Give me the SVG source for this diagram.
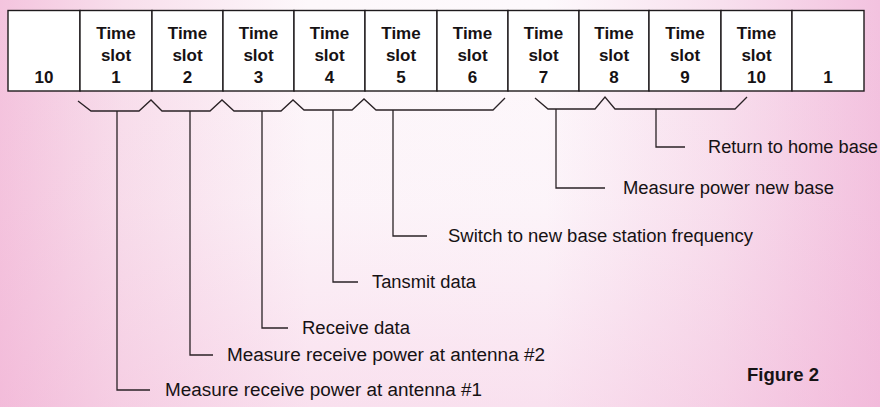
<svg xmlns="http://www.w3.org/2000/svg" width="880" height="407" viewBox="0 0 880 407">
  <defs>
    <linearGradient id="bgH" x1="0" y1="0" x2="1" y2="0">
      <stop offset="0" stop-color="#f4c4de"/>
      <stop offset="0.14" stop-color="#f8dfec"/>
      <stop offset="0.35" stop-color="#fdf8fb"/>
      <stop offset="0.62" stop-color="#fdf9fc"/>
      <stop offset="0.82" stop-color="#f8e0ee"/>
      <stop offset="1" stop-color="#f3c2df"/>
    </linearGradient>
    <linearGradient id="bgV" x1="0" y1="0" x2="0" y2="1">
      <stop offset="0" stop-color="#f0a8d0" stop-opacity="0"/>
      <stop offset="0.5" stop-color="#f0a8d0" stop-opacity="0.06"/>
      <stop offset="1" stop-color="#f0a8d0" stop-opacity="0.3"/>
    </linearGradient>
    <style>
      .box { fill: #ffffff; stroke: #1e1a1c; stroke-width: 1.4; }
      .bt { font-family: "Liberation Sans", Arial, sans-serif; font-weight: bold; font-size: 17px; fill: #161214; text-anchor: middle; }
      .lbl { font-family: "Liberation Sans", Arial, sans-serif; font-size: 18px; fill: #161214; }
      .fig { font-family: "Liberation Sans", Arial, sans-serif; font-weight: bold; font-size: 18px; fill: #161214; }
      .ln { fill: none; stroke: #2a2226; stroke-width: 1.3; stroke-linejoin: miter; }
    </style>
  </defs>
  <rect x="0" y="0" width="880" height="407" fill="url(#bgH)"/>
  <rect x="0" y="0" width="880" height="407" fill="url(#bgV)"/>

  <g id="slot-prev-10">
    <rect class="box" x="8" y="10.5" width="72" height="80.5"/>
    <text class="bt" x="44" y="83">10</text>
  </g>
  <g id="slot-1">
    <rect class="box" x="80" y="10.5" width="72" height="80.5"/>
    <text class="bt" x="116" y="39">Time</text><text class="bt" x="116" y="61">slot</text><text class="bt" x="116" y="83">1</text>
  </g>
  <g id="slot-2">
    <rect class="box" x="152" y="10.5" width="71" height="80.5"/>
    <text class="bt" x="187.5" y="39">Time</text><text class="bt" x="187.5" y="61">slot</text><text class="bt" x="187.5" y="83">2</text>
  </g>
  <g id="slot-3">
    <rect class="box" x="223" y="10.5" width="71" height="80.5"/>
    <text class="bt" x="258.5" y="39">Time</text><text class="bt" x="258.5" y="61">slot</text><text class="bt" x="258.5" y="83">3</text>
  </g>
  <g id="slot-4">
    <rect class="box" x="294" y="10.5" width="71" height="80.5"/>
    <text class="bt" x="329.5" y="39">Time</text><text class="bt" x="329.5" y="61">slot</text><text class="bt" x="329.5" y="83">4</text>
  </g>
  <g id="slot-5">
    <rect class="box" x="365" y="10.5" width="72" height="80.5"/>
    <text class="bt" x="401" y="39">Time</text><text class="bt" x="401" y="61">slot</text><text class="bt" x="401" y="83">5</text>
  </g>
  <g id="slot-6">
    <rect class="box" x="437" y="10.5" width="71" height="80.5"/>
    <text class="bt" x="472.5" y="39">Time</text><text class="bt" x="472.5" y="61">slot</text><text class="bt" x="472.5" y="83">6</text>
  </g>
  <g id="slot-7">
    <rect class="box" x="508" y="10.5" width="71" height="80.5"/>
    <text class="bt" x="543.5" y="39">Time</text><text class="bt" x="543.5" y="61">slot</text><text class="bt" x="543.5" y="83">7</text>
  </g>
  <g id="slot-8">
    <rect class="box" x="579" y="10.5" width="70" height="80.5"/>
    <text class="bt" x="614" y="39">Time</text><text class="bt" x="614" y="61">slot</text><text class="bt" x="614" y="83">8</text>
  </g>
  <g id="slot-9">
    <rect class="box" x="649" y="10.5" width="72" height="80.5"/>
    <text class="bt" x="685" y="39">Time</text><text class="bt" x="685" y="61">slot</text><text class="bt" x="685" y="83">9</text>
  </g>
  <g id="slot-10">
    <rect class="box" x="721" y="10.5" width="71" height="80.5"/>
    <text class="bt" x="756.5" y="39">Time</text><text class="bt" x="756.5" y="61">slot</text><text class="bt" x="756.5" y="83">10</text>
  </g>
  <g id="slot-next-1">
    <rect class="box" x="792" y="10.5" width="72" height="80.5"/>
    <text class="bt" x="828" y="83">1</text>
  </g>

  <g id="connectors">
    <path class="ln" d="M78,101 L91,111 L139,111 L151,100 L162,111 L210,111 L222,100 L234,111 L281,111 L293,100 L304,110 L352,110 L364,99 L376,110 L493,110 L505,98"/>
    <path class="ln" d="M535,98 L548,109 L595,109 L605,97 L615,109 L735,109 L747,97"/>
    <path class="ln" d="M117,111 V390 H150"/>
    <path class="ln" d="M190,111 V355 H213"/>
    <path class="ln" d="M262,111 V328 H288"/>
    <path class="ln" d="M333,110 V282 H358"/>
    <path class="ln" d="M393,110 V236 H427"/>
    <path class="ln" d="M556,109 V188 H605"/>
    <path class="ln" d="M656,109 V147 H685"/>
  </g>

  <g id="labels">
    <text class="lbl" x="165" y="396" textLength="317" lengthAdjust="spacingAndGlyphs">Measure receive power at antenna #1</text>
    <text class="lbl" x="227" y="361" textLength="318" lengthAdjust="spacingAndGlyphs">Measure receive power at antenna #2</text>
    <text class="lbl" x="302" y="334" textLength="108" lengthAdjust="spacingAndGlyphs">Receive data</text>
    <text class="lbl" x="372" y="288" textLength="104" lengthAdjust="spacingAndGlyphs">Tansmit data</text>
    <text class="lbl" x="448" y="242" textLength="305" lengthAdjust="spacingAndGlyphs">Switch to new base station frequency</text>
    <text class="lbl" x="623" y="194" textLength="211" lengthAdjust="spacingAndGlyphs">Measure power new base</text>
    <text class="lbl" x="708" y="153" textLength="170" lengthAdjust="spacingAndGlyphs">Return to home base</text>
  </g>

  <g id="caption">
    <text class="fig" x="747" y="381" textLength="72" lengthAdjust="spacingAndGlyphs">Figure 2</text>
  </g>
</svg>
